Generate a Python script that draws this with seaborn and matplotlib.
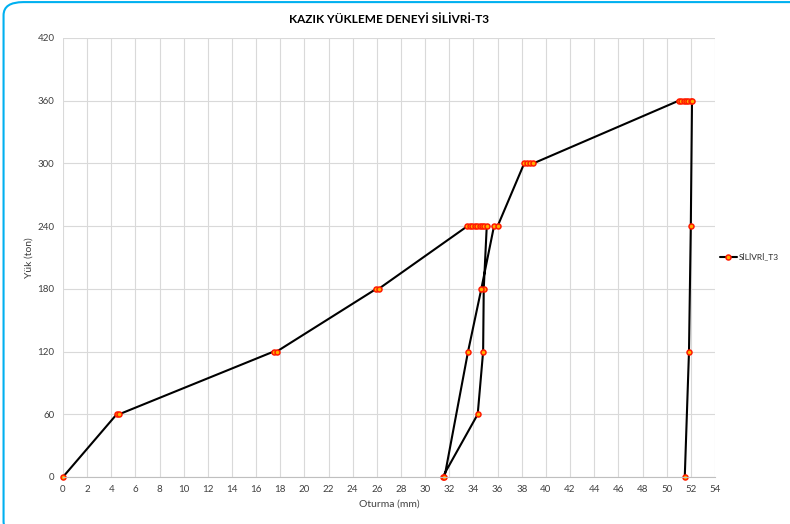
import numpy as np
import pandas as pd
import seaborn as sns
import matplotlib.pyplot as plt
from matplotlib.patches import FancyBboxPatch

# load test readings: settlement (mm) and load (ton), in recorded order
oturma = [0.0, 4.45, 4.65, 17.45, 17.7, 25.95, 26.15,
          33.5, 33.7, 33.9, 34.1, 34.3, 34.5, 34.7, 34.9, 35.1,
          34.85, 34.8, 34.35, 31.45,
          31.6, 33.55, 34.65, 35.7, 36.0,
          38.2, 38.45, 38.7, 38.95,
          51.0, 51.2, 51.4, 51.6, 51.8, 52.0, 52.1,
          52.0, 51.85, 51.5]
yuk = [0, 60, 60, 120, 120, 180, 180,
       240, 240, 240, 240, 240, 240, 240, 240, 240,
       180, 120, 60, 0,
       0, 120, 180, 240, 240,
       300, 300, 300, 300,
       360, 360, 360, 360, 360, 360, 360,
       240, 120, 0]
x_ticks = list(range(0, 55, 2))
y_ticks = list(range(0, 421, 60))

df = pd.DataFrame({"Oturma": oturma, "Yuk": yuk})

sns.set_style("white")
plt.rcParams['font.family'] = ['Lato', 'DejaVu Sans']

fig = plt.figure(figsize=(7.9, 5.24), dpi=100)
ax = fig.add_axes([0.0797, 0.0897, 0.8253, 0.8378])

sns.lineplot(data=df, x="Oturma", y="Yuk", sort=False, estimator=None,
             color="black", linewidth=1.5, marker="o", markersize=3.6,
             markerfacecolor="#ffb000", markeredgecolor="#ff1a00",
             markeredgewidth=1.1, label="SİLİVRİ_T3", ax=ax, clip_on=False)

ax.set_xlim(0, 54)
ax.set_ylim(0, 420)
ax.set_xticks(x_ticks)
ax.set_yticks(y_ticks)
ax.tick_params(axis="both", labelsize=7, length=0, pad=6, colors="#404040")
ax.grid(True, color="#d9d9d9", linewidth=0.8)
for s in ["top", "right", "left"]:
    ax.spines[s].set_visible(False)
ax.spines["bottom"].set_color("#bfbfbf")
ax.spines["bottom"].set_linewidth(0.8)

ax.set_xlabel("Oturma (mm)", fontsize=7.5, color="#404040", labelpad=4)
ax.set_ylabel("Yük (ton)", fontsize=7.5, color="#404040", labelpad=3)
ax.set_title("KAZIK YÜKLEME DENEYİ SİLİVRİ-T3", fontsize=8.5,
             fontweight="bold", color="#000000", pad=11)

ax.legend(loc="center left", bbox_to_anchor=(1.0, 0.5), frameon=False,
          fontsize=6, handlelength=2.0, handletextpad=0.3, borderaxespad=0.2)

# chart frame
frame = FancyBboxPatch((0.0045, -0.02), 1.05, 1.016,
                       boxstyle="round,pad=0,rounding_size=0.025",
                       transform=fig.transFigure, fill=False,
                       edgecolor="#00b0f0", linewidth=1.5, clip_on=False)
fig.patches.append(frame)

fig.savefig("out.png", dpi=100)
